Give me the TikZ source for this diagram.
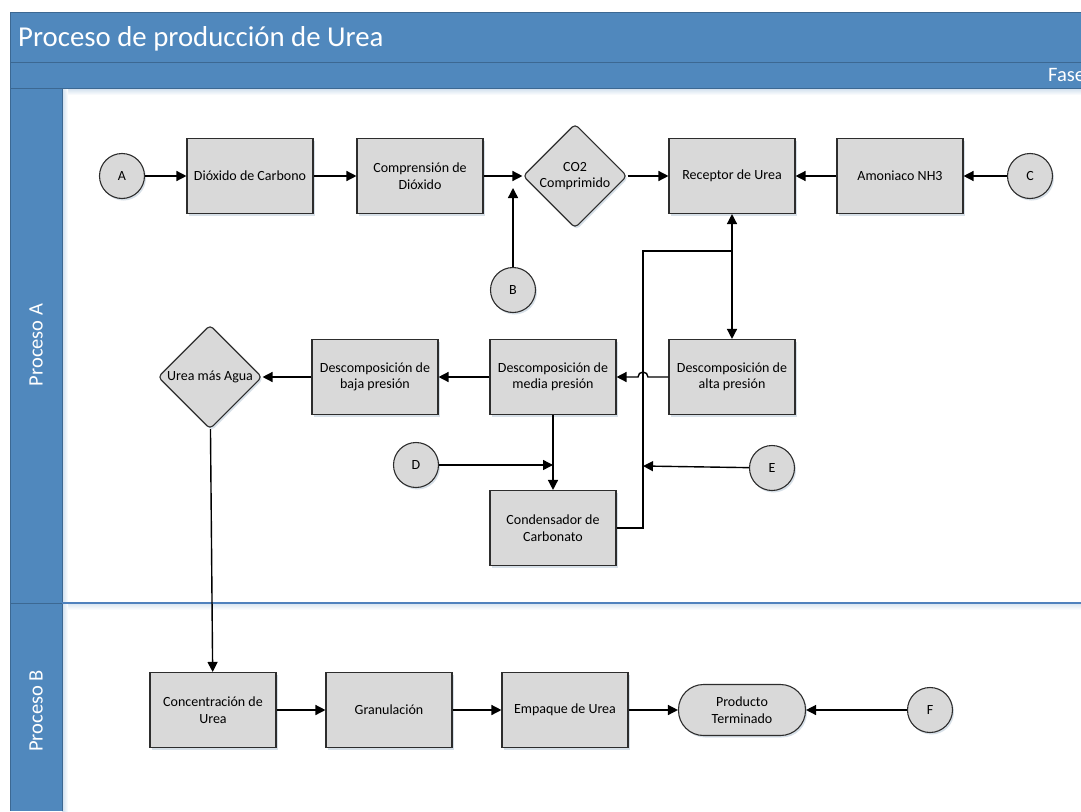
\documentclass[tikz,border=0pt]{standalone}
\usepackage{fontspec}
\setmainfont{Carlito}
\usetikzlibrary{shapes.geometric,arrows.meta,shadows,calc}

\definecolor{laneblue}{RGB}{80,136,189}
\definecolor{laneedge}{RGB}{60,104,146}
\definecolor{sepblue}{RGB}{79,129,189}
\definecolor{boxfill}{RGB}{217,217,217}
\definecolor{boxedge}{RGB}{45,45,45}

\tikzset{
  shape base/.style={draw=boxedge, line width=1.1pt, fill=boxfill,
    font=\fontsize{14}{16.5}\selectfont, align=center, inner sep=0pt,
    drop shadow={shadow xshift=1.5pt, shadow yshift=-2pt, opacity=0.25, fill=laneblue!60!gray}},
  procbox/.style={shape base, rectangle, minimum width=126pt, minimum height=75pt},
  decision/.style={shape base, diamond, rounded corners=4pt, minimum width=104pt, minimum height=104pt},
  terminal/.style={shape base, rectangle, rounded corners=25pt, minimum width=127pt, minimum height=51pt},
  connector/.style={shape base, circle, minimum size=45pt},
  flow/.style={draw=black, line width=1.4pt, -{Triangle[length=10pt,width=10pt]}},
  flowboth/.style={draw=black, line width=1.4pt, {Triangle[length=10pt,width=10pt]}-{Triangle[length=10pt,width=10pt]}},
  plainflow/.style={draw=black, line width=1.4pt},
  lanetext/.style={text=white, font=\fontsize{20.5}{24}\selectfont, inner sep=0pt},
}

\begin{document}
\begin{tikzpicture}[x=1pt, y=-1pt]
\useasboundingbox (0,0) rectangle (1081,811);
\clip (0,0) rectangle (1081,811);
\fill[white] (0,0) rectangle (1081,811);

% swimlane frame: title band, phase band and lane column
\fill[laneblue] (10,12) rectangle (1081,88);
\fill[laneblue] (10,88) rectangle (62,811);
\shade[top color=laneblue!28, bottom color=white] (62,88) rectangle (1081,95);
\shade[left color=laneblue!28, right color=white] (62,88) rectangle (68,603);
\shade[top color=laneblue!22, bottom color=white] (62,603.5) rectangle (1081,610);
\shade[left color=laneblue!28, right color=white] (62,603) rectangle (68,811);
\draw[laneedge, line width=1pt] (1081,12) -- (10,12) -- (10,811);
\draw[laneedge, line width=1pt] (10,62) -- (1081,62);
\draw[laneedge, line width=1pt] (10,88) -- (1081,88);
\draw[laneedge, line width=1pt] (62,88) -- (62,811);
\draw[laneedge, line width=1pt] (10,603) -- (62,603);
\draw[sepblue, line width=1.2pt] (62,603) -- (1081,603);

\node[anchor=base west, text=white, font=\fontsize{28.8}{31}\selectfont, inner sep=0pt] (title) at (18,46) {Proceso de producción de Urea};
\node[anchor=base west, lanetext] (fase) at (1048,81.5) {Fase};
\node[lanetext, rotate=90] (laneA) at (36,345) {Proceso A};
\node[lanetext, rotate=90] (laneB) at (36,711) {Proceso B};

% Proceso A, first row
\node[connector] (A) at (122,176) {A};
\node[procbox] (diox) at (250,176) {Dióxido de Carbono};
\node[procbox] (comp) at (420,176) {Comprensión de\\Dióxido};
\node[decision] (co2) at (575,176) {CO2\\Comprimido};
\node[procbox] (rec) at (732,176) {Receptor de Urea};
\node[procbox] (amon) at (900,176) {Amoniaco NH3};
\node[connector] (C) at (1030,176) {C};
\node[connector] (B) at (513,290) {B};
\coordinate (bj) at (513,188);

% Proceso A, second row
\node[decision] (urea) at (210,377) {Urea más Agua};
\node[procbox] (baja) at (375,377) {Descomposición de\\baja presión};
\node[procbox] (media) at (553,377) {Descomposición de\\media presión};
\node[procbox] (alta) at (732,377) {Descomposición de\\alta presión};
\node[connector] (D) at (416,465) {D};
\node[connector] (E) at (772,468) {E};
\node[procbox] (cond) at (553,528) {Condensador de\\Carbonato};
\coordinate (dj) at (553,465);
\coordinate (ej) at (643,466);
\coordinate (vx) at (643,251);
\coordinate (tj) at (732,251);

% Proceso B
\node[procbox] (conc) at (213,710) {Concentración de\\Urea};
\node[procbox] (gran) at (389,710) {Granulación};
\node[procbox] (emp) at (565,710) {Empaque de Urea};
\node[terminal] (prod) at (742,710) {Producto\\Terminado};
\node[connector] (F) at (930,710) {F};

% connectors
\draw[flow] (A) -- (diox);
\draw[flow] (diox) -- (comp);
\draw[flow] (comp) -- (co2);
\draw[flow] (B) -- (bj);
\draw[flow] (co2) -- (rec);
\draw[flow] (amon) -- (rec);
\draw[flow] (C) -- (amon);
\draw[flowboth] (rec) -- (alta);
\draw[plainflow] (cond.east) -| (vx) -- (tj);
\draw[flow] (E) -- (ej);
\draw[flow] (alta.west) -- ($(vx |- alta.west)+(5,0)$) arc[start angle=0, end angle=-180, radius=5] -- (media.east);
\draw[flow] (media) -- (cond);
\draw[flow] (D) -- (dj);
\draw[flow] (media) -- (baja);
\draw[flow] (baja) -- (urea);
\draw[flow] (urea) -- (conc);
\draw[flow] (conc) -- (gran);
\draw[flow] (gran) -- (emp);
\draw[flow] (emp) -- (prod);
\draw[flow] (F) -- (prod);
\end{tikzpicture}
\end{document}
